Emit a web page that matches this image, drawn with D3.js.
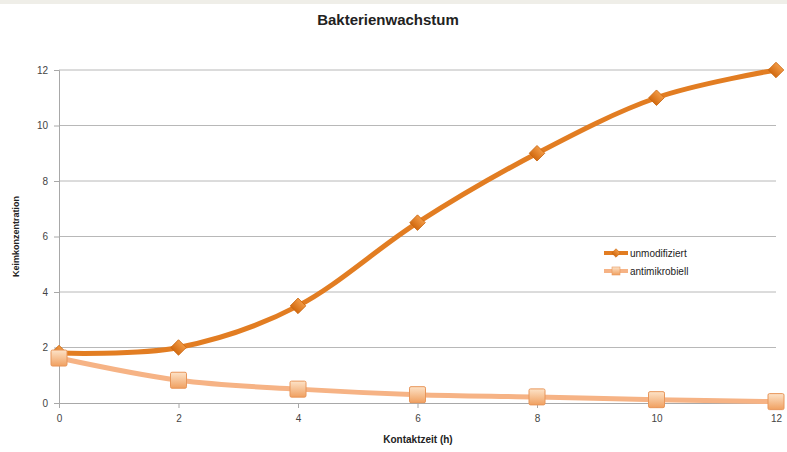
<!DOCTYPE html>
<html><head><meta charset="utf-8">
<script src="https://cdn.jsdelivr.net/npm/d3@7"></script>
<style>body{margin:0;background:#fff}svg{display:block}</style>
</head><body>
<script>
const hours = [0, 2, 4, 6, 8, 10, 12];
const unmodifiziert = [1.8, 2.0, 3.5, 6.5, 9.0, 11.0, 12.0];
const antimikrobiell = [1.62, 0.82, 0.5, 0.3, 0.22, 0.12, 0.05];
const yTicks = [0, 2, 4, 6, 8, 10, 12];
const xTicks = [0, 2, 4, 6, 8, 10, 12];
const seriesNames = ["unmodifiziert", "antimikrobiell"];

const W = 787, H = 452;
const svg = d3.select("body").append("svg").attr("width", W).attr("height", H);
svg.append("rect").attr("width", W).attr("height", H).attr("fill", "#fff");
svg.append("rect").attr("width", W).attr("height", 4).attr("fill", "#efeee8");

const defs = svg.append("defs");
const g1 = defs.append("linearGradient").attr("id", "sq").attr("x1", 0).attr("y1", 0).attr("x2", 0).attr("y2", 1);
g1.append("stop").attr("offset", "0%").attr("stop-color", "#fde3c8");
g1.append("stop").attr("offset", "100%").attr("stop-color", "#f0a060");
const g2 = defs.append("linearGradient").attr("id", "dm").attr("x1", 0).attr("y1", 0).attr("x2", 0).attr("y2", 1);
g2.append("stop").attr("offset", "0%").attr("stop-color", "#f29a45");
g2.append("stop").attr("offset", "100%").attr("stop-color", "#d26a10");

const x = d3.scaleLinear().domain([0, 12]).range([59, 776]);
const y = d3.scaleLinear().domain([0, 12]).range([403, 70]);

// gridlines
svg.append("g").selectAll("line").data(yTicks.filter(d => d > 0)).join("line")
  .attr("x1", x(0)).attr("x2", x(12)).attr("y1", d => y(d)).attr("y2", d => y(d))
  .attr("stroke", "#b8b8b8").attr("stroke-width", 1);

// axes
const yAxis = svg.append("g").attr("transform", `translate(${x(0)},0)`)
  .call(d3.axisLeft(y).tickValues(yTicks).tickSize(5).tickPadding(6));
const xAxis = svg.append("g").attr("transform", `translate(0,${y(0)})`)
  .call(d3.axisBottom(x).tickValues(xTicks).tickSize(5).tickPadding(7));
[yAxis, xAxis].forEach(a => {
  a.select(".domain").attr("stroke", "#a8a8a8");
  a.selectAll(".tick line").attr("stroke", "#a8a8a8");
  a.selectAll("text").attr("font-family", "Liberation Sans, Arial, sans-serif")
    .attr("font-size", 10).attr("fill", "#444");
});

const line = d3.line().x(d => x(d[0])).y(d => y(d[1])).curve(d3.curveCardinal.tension(0));
const d1 = hours.map((h, i) => [h, unmodifiziert[i]]);
const d2 = hours.map((h, i) => [h, antimikrobiell[i]]);

svg.append("path").datum(d2).attr("d", line).attr("fill", "none")
  .attr("stroke", "#f6b385").attr("stroke-width", 5).attr("stroke-linecap", "round");
svg.append("path").datum(d1).attr("d", line).attr("fill", "none")
  .attr("stroke", "#e27d22").attr("stroke-width", 5).attr("stroke-linecap", "round");

// diamond markers
svg.append("g").selectAll("path").data(d1).join("path")
  .attr("transform", d => `translate(${x(d[0])},${y(d[1])}) rotate(45)`)
  .attr("d", "M-5.5,-5.5H5.5V5.5H-5.5Z")
  .attr("fill", "url(#dm)").attr("stroke", "#c9650f").attr("stroke-width", 0.8);

// square markers
svg.append("g").selectAll("rect").data(d2).join("rect")
  .attr("x", d => x(d[0]) - 8).attr("y", d => y(d[1]) - 8)
  .attr("width", 16).attr("height", 16).attr("rx", 1.5)
  .attr("fill", "url(#sq)").attr("stroke", "#e8965a").attr("stroke-width", 1);

// title
const font = "Liberation Sans, Arial, sans-serif";
svg.append("text").attr("x", 388).attr("y", 25).attr("text-anchor", "middle")
  .attr("font-family", font).attr("font-weight", "bold").attr("font-size", 15)
  .attr("fill", "#222").text("Bakterienwachstum");
svg.append("text").attr("transform", `translate(19,${y(6)}) rotate(-90)`)
  .attr("text-anchor", "middle").attr("font-family", font).attr("font-weight", "bold")
  .attr("font-size", 9).attr("fill", "#222").text("Keimkonzentration");
svg.append("text").attr("x", 418).attr("y", 443).attr("text-anchor", "middle")
  .attr("font-family", font).attr("font-weight", "bold").attr("font-size", 10)
  .attr("fill", "#222").text("Kontaktzeit (h)");

// legend
const leg = svg.append("g").attr("transform", "translate(604,253)");
const colors = ["#e27d22", "#f6b385"];
seriesNames.forEach((n, i) => {
  const gy = i * 18;
  leg.append("line").attr("x1", 0).attr("x2", 24).attr("y1", gy).attr("y2", gy)
    .attr("stroke", colors[i]).attr("stroke-width", 4);
  if (i === 0) {
    leg.append("path").attr("transform", `translate(12,${gy}) rotate(45)`)
      .attr("d", "M-3,-3H3V3H-3Z").attr("fill", "url(#dm)").attr("stroke", "#c9650f").attr("stroke-width", 0.6);
  } else {
    leg.append("rect").attr("x", 8).attr("y", gy - 4).attr("width", 8).attr("height", 8)
      .attr("fill", "url(#sq)").attr("stroke", "#e8965a").attr("stroke-width", 0.6);
  }
  leg.append("text").attr("x", 26).attr("y", gy + 3.5).attr("font-family", font)
    .attr("font-size", 10).attr("fill", "#222").text(n);
});
</script>
</body></html>
